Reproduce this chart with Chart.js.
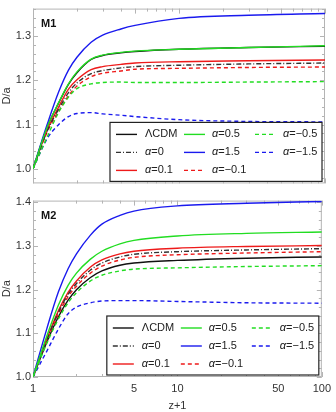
<!DOCTYPE html>
<html lang="en">
<head>
<meta charset="UTF-8">
<script src="https://cdn.jsdelivr.net/npm/chart.js@4.4.1/dist/chart.umd.min.js"></script>
<title>D/a vs z+1</title>
<style>
  body { margin: 0; background: #fff; }
  canvas { position: absolute; left: 0; }
</style>
</head>
<body>
<canvas id="m1" width="336" height="192" style="top:0"></canvas>
<canvas id="m2" width="336" height="220" style="top:192px"></canvas>

<script>
// z+1 sample points (shared by every curve)
const zp1 = [1, 1.25, 1.5, 1.75, 2, 2.5, 3, 4, 5, 10, 30, 100]

// M1 panel
const m1_lcdm = [1, 1.094, 1.149, 1.191, 1.217, 1.247, 1.256, 1.262, 1.265, 1.270, 1.274, 1.277]
const m1_a05  = [1, 1.094, 1.150, 1.192, 1.219, 1.248, 1.257, 1.263, 1.266, 1.270, 1.274, 1.278]
const m1_am05 = [1, 1.072, 1.128, 1.162, 1.181, 1.192, 1.195, 1.196, 1.195, 1.195, 1.196, 1.197]
const m1_a0   = [1, 1.085, 1.135, 1.172, 1.194, 1.215, 1.222, 1.228, 1.231, 1.234, 1.237, 1.239]
const m1_a15  = [1, 1.100, 1.174, 1.223, 1.252, 1.286, 1.302, 1.316, 1.324, 1.340, 1.347, 1.351]
const m1_am15 = [1, 1.068, 1.100, 1.118, 1.125, 1.127, 1.124, 1.121, 1.118, 1.111, 1.107, 1.106]
const m1_a01  = [1, 1.088, 1.140, 1.180, 1.201, 1.224, 1.231, 1.236, 1.239, 1.242, 1.244, 1.246]
const m1_am01 = [1, 1.083, 1.130, 1.165, 1.187, 1.208, 1.216, 1.221, 1.225, 1.227, 1.229, 1.230]

// M2 panel
const m2_lcdm = [1, 1.081, 1.138, 1.176, 1.200, 1.228, 1.243, 1.256, 1.261, 1.267, 1.272, 1.275]
const m2_a05  = [1, 1.095, 1.165, 1.210, 1.238, 1.270, 1.288, 1.305, 1.313, 1.323, 1.329, 1.332]
const m2_am05 = [1, 1.078, 1.133, 1.170, 1.193, 1.220, 1.233, 1.243, 1.247, 1.250, 1.253, 1.255]
const m2_a0   = [1, 1.086, 1.148, 1.189, 1.214, 1.245, 1.261, 1.275, 1.281, 1.287, 1.291, 1.294]
const m2_a15  = [1, 1.112, 1.195, 1.248, 1.282, 1.325, 1.350, 1.370, 1.380, 1.392, 1.398, 1.402]
const m2_am15 = [1, 1.060, 1.110, 1.145, 1.160, 1.170, 1.174, 1.175, 1.175, 1.173, 1.170, 1.169]
const m2_a01  = [1, 1.088, 1.152, 1.194, 1.220, 1.252, 1.268, 1.282, 1.288, 1.295, 1.299, 1.301]
const m2_am01 = [1, 1.084, 1.144, 1.184, 1.208, 1.238, 1.254, 1.268, 1.274, 1.280, 1.284, 1.287]

// legend order (row by row, 3 columns)
const labels = ["ΛCDM", "α=0.5", "α=−0.5", "α=0", "α=1.5", "α=−1.5", "α=0.1", "α=−0.1"]

const xTicks = [1, 5, 10, 50, 100]
const xMinor = [2, 3, 4, 6, 7, 8, 9, 20, 30, 40, 60, 70, 80, 90]

const BLACK = "#111111", GREEN = "#22dd22", BLUE = "#1a1aee", RED = "#ee1a1a"
const styles = [
    { c: BLACK, d: [] },
    { c: GREEN, d: [] },
    { c: GREEN, d: [4, 3] },
    { c: "#333333", d: [5, 2, 1, 2] },
    { c: BLUE, d: [] },
    { c: BLUE, d: [4, 3] },
    { c: RED, d: [] },
    { c: RED, d: [4, 3] }
]

function makeSets(series) {
    return series.map((s, i) => ({
        label: labels[i],
        data: zp1.map((z, k) => ({ x: z, y: s[k] })),
        borderColor: styles[i].c,
        borderDash: styles[i].d,
        borderWidth: 1.4,
        pointRadius: 0,
        fill: false,
        order: i == 0 ? 9 : i,   // ΛCDM underneath the others
        cubicInterpolationMode: "monotone"
    }))
}

function hline(ctx, x1, y1, x2, y2) {
    ctx.beginPath(); ctx.moveTo(x1, y1); ctx.lineTo(x2, y2); ctx.stroke()
}

// Mathematica-like frame with inward ticks
const framePlugin = {
    id: "frame",
    beforeDatasetsDraw(chart, args, opts) {
        const { ctx, chartArea: a, scales: { x, y } } = chart
        ctx.save()
        ctx.strokeStyle = "#b4b4b4"
        ctx.lineWidth = 1
        ctx.strokeRect(a.left + 0.5, a.top + 0.5, a.width - 1, a.height - 1)
        xTicks.concat(xMinor).forEach(v => {
            const px = Math.round(x.getPixelForValue(v)) + 0.5
            const len = xTicks.includes(v) ? 5 : 3
            hline(ctx, px, a.bottom, px, a.bottom - len)
            hline(ctx, px, a.top, px, a.top + len)
        })
        for (let v = 0.96; v <= y.max + 1e-9; v += 0.02) {
            if (v < y.min) continue
            const py = Math.round(y.getPixelForValue(v)) + 0.5
            const major = Math.abs(v * 10 - Math.round(v * 10)) < 1e-6
            const len = major ? 5 : 3
            hline(ctx, a.left, py, a.left + len, py)
            hline(ctx, a.right, py, a.right - len, py)
        }
        ctx.restore()
    },
    afterDatasetsDraw(chart, args, opts) {
        const { ctx, chartArea: a } = chart
        ctx.save()
        // panel label
        ctx.fillStyle = "#111"
        ctx.font = "bold 11px 'Liberation Sans'"
        ctx.textBaseline = "middle"
        ctx.fillText(opts.title, a.left + 8, a.top + 15)

        // legend box
        const bw = 212, bh = 59
        const bx = a.right - 3 - bw, by = a.bottom - 2 - bh
        ctx.fillStyle = "#fff"
        ctx.fillRect(bx, by, bw, bh)
        ctx.strokeStyle = "#222"
        ctx.lineWidth = 1.2
        ctx.strokeRect(bx, by, bw, bh)
        const colLine = [6, 74, 145], colText = [35, 102, 173], rowY = [12, 30, 48]
        chart.data.datasets.forEach((ds, i) => {
            const col = i % 3, row = Math.floor(i / 3)
            const ly = by + rowY[row]
            ctx.strokeStyle = ds.borderColor
            ctx.lineWidth = 1.4
            ctx.setLineDash(ds.borderDash)
            hline(ctx, bx + colLine[col], ly, bx + colLine[col] + 21, ly)
            ctx.setLineDash([])
            ctx.fillStyle = "#222"
            let tx = bx + colText[col]
            let txt = ds.label
            if (txt.startsWith("α")) {
                ctx.font = "italic 11px 'Liberation Sans'"
                ctx.fillText("α", tx, ly)
                tx += ctx.measureText("α").width
                txt = txt.slice(1)
            }
            ctx.font = "11px 'Liberation Sans'"
            ctx.fillText(txt, tx, ly)
        })
        ctx.restore()
    }
}

function makeChart(id, series, ymin, ymax, yTicks, title, isBottom) {
    return new Chart(id, {
        type: "line",
        data: { datasets: makeSets(series) },
        options: {
            responsive: false,
            animation: false,
            devicePixelRatio: 1,
            layout: { padding: { top: isBottom ? 8 : 5, right: 11, left: 0, bottom: 0 } },
            plugins: { legend: { display: false }, tooltip: { enabled: false }, frame: { title: title } },
            scales: {
                x: {
                    type: "logarithmic",
                    min: 1, max: 100,
                    afterBuildTicks: s => { s.ticks = xTicks.map(v => ({ value: v })) },
                    afterFit: s => { s.height = isBottom ? 35 : 7 },
                    grid: { display: false, drawTicks: false },
                    border: { display: false },
                    ticks: {
                        display: isBottom,
                        autoSkip: false,
                        maxRotation: 0,
                        padding: 5,
                        color: "#333",
                        font: { family: "'Liberation Sans'", size: 11 },
                        callback: v => String(v)
                    },
                    title: {
                        display: isBottom,
                        text: "z+1",
                        color: "#333",
                        padding: { top: 0, bottom: -1 },
                        font: { family: "'Liberation Sans'", size: 11 }
                    }
                },
                y: {
                    min: ymin, max: ymax,
                    afterBuildTicks: s => { s.ticks = yTicks.map(v => ({ value: v })) },
                    afterFit: s => { s.width = 33 },
                    grid: { display: false, drawTicks: false },
                    border: { display: false },
                    ticks: {
                        padding: 2,
                        color: "#333",
                        font: { family: "'Liberation Sans'", size: 11 },
                        callback: v => v.toFixed(1)
                    },
                    title: {
                        display: true,
                        text: "D/a",
                        color: "#333",
                        padding: 0,
                        font: { family: "'Liberation Sans'", size: 11 }
                    }
                }
            }
        },
        plugins: [framePlugin]
    })
}

makeChart("m1",
    [m1_lcdm, m1_a05, m1_am05, m1_a0, m1_a15, m1_am15, m1_a01, m1_am01],
    0.967, 1.362, [1.0, 1.1, 1.2, 1.3], "M1", false)

makeChart("m2",
    [m2_lcdm, m2_a05, m2_am05, m2_a0, m2_a15, m2_am15, m2_a01, m2_am01],
    1.0, 1.404, [1.0, 1.1, 1.2, 1.3, 1.4], "M2", true)
</script>
</body>
</html>
